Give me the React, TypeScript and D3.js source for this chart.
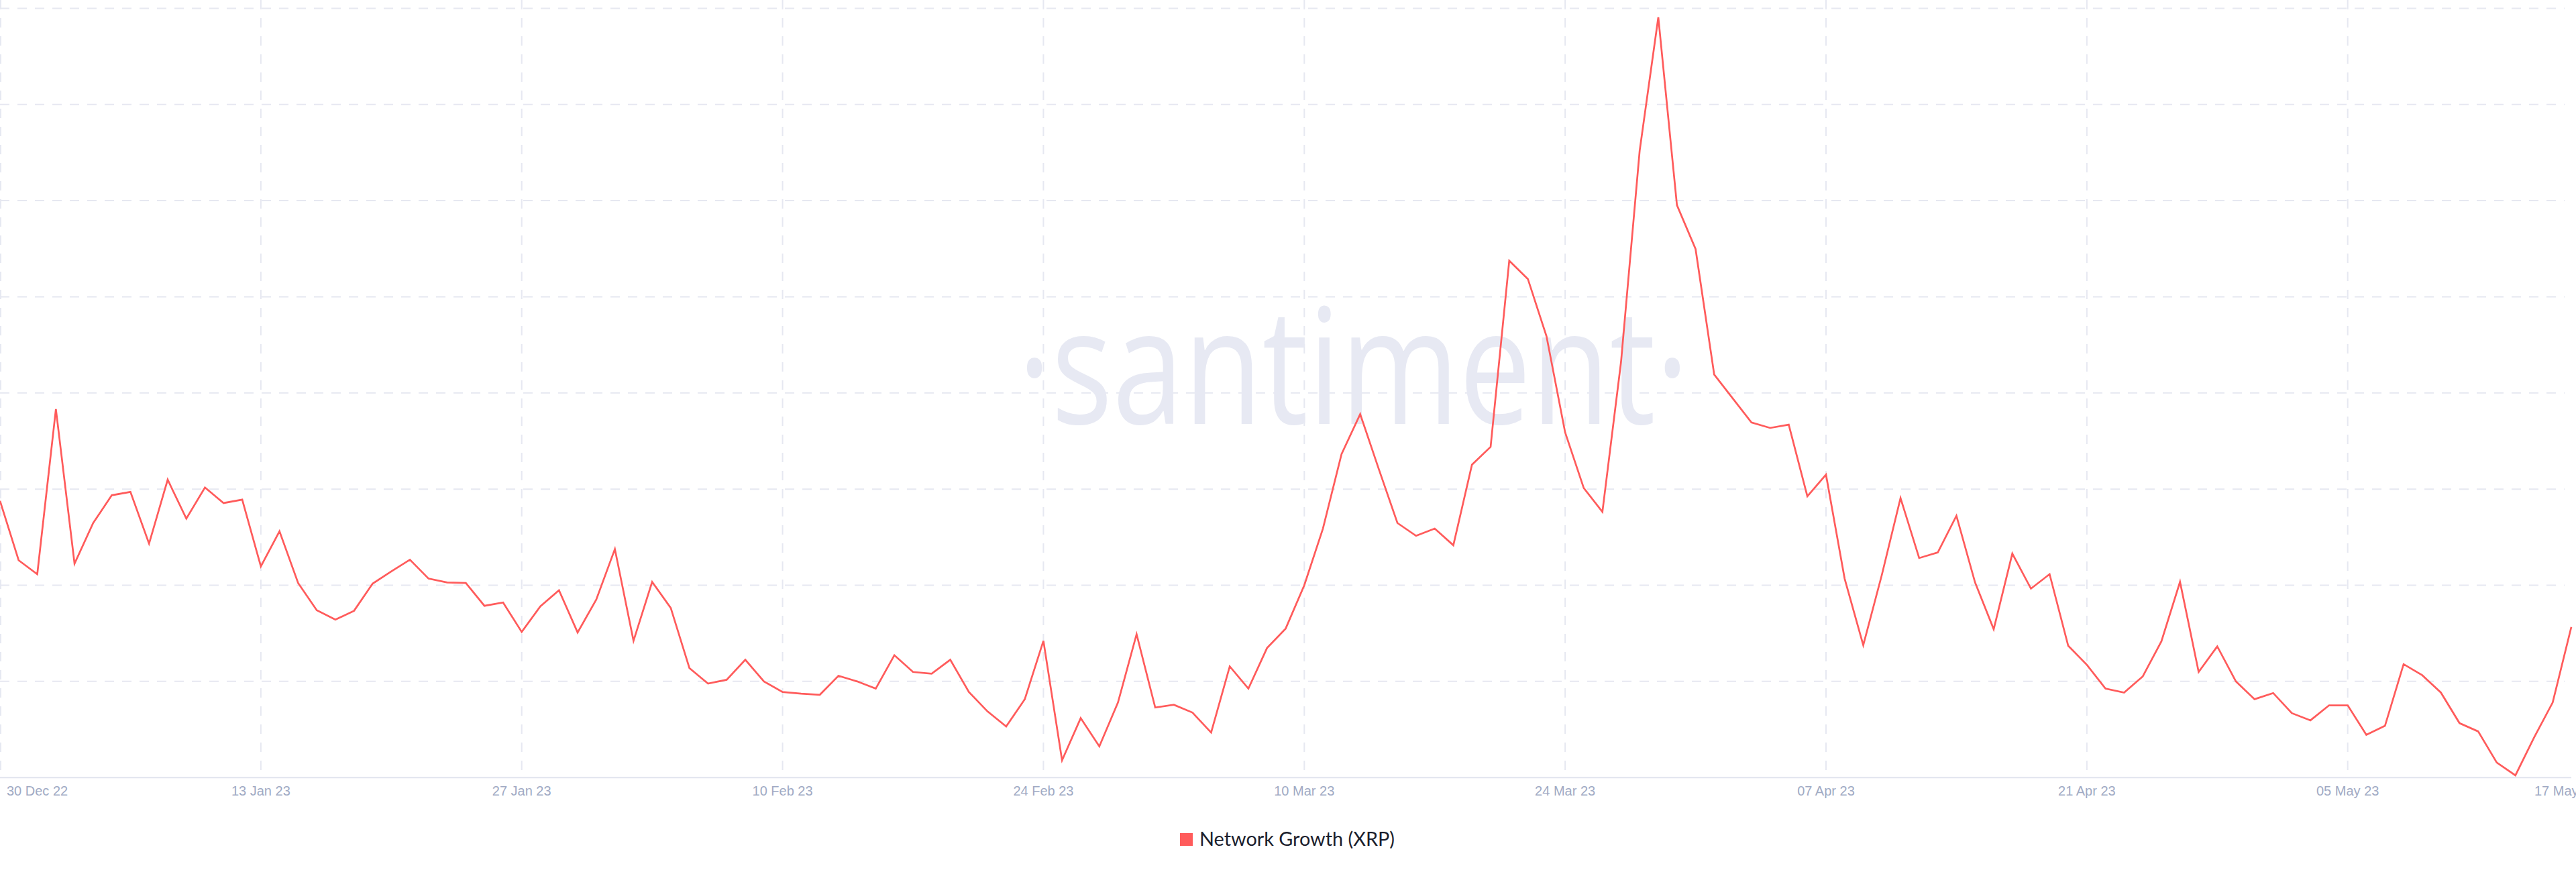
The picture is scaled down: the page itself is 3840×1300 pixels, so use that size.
import React from "react";
import * as d3 from "d3";

const startDate = new Date(Date.UTC(2022, 11, 30));
const endDate = new Date(Date.UTC(2023, 4, 17));

const networkGrowth: number[] = [
  4878, 4260, 4115, 5832, 4225, 4647, 4936, 4971, 4433, 5098,
  4693, 5017, 4855, 4890, 4196, 4561, 4023, 3740, 3642, 3734,
  4017, 4144, 4266, 4069, 4029, 4023, 3786, 3821, 3514, 3780,
  3948, 3509, 3850, 4376, 3422, 4035, 3763, 3139, 2977, 3017,
  3225, 3000, 2890, 2873, 2861, 3058, 3000, 2925, 3272, 3098,
  3081, 3225, 2890, 2688, 2532, 2815, 3422, 2179, 2618, 2324,
  2780, 3491, 2728, 2757, 2676, 2468, 3156, 2925, 3347, 3549,
  4000, 4589, 5364, 5780, 5208, 4647, 4514, 4589, 4416, 5254,
  5439, 7375, 7185, 6589, 5589, 5011, 4763, 6323, 8520, 9907,
  7953, 7497, 6191, 5942, 5693, 5636, 5670, 4925, 5150, 4069,
  3376, 4110, 4907, 4283, 4341, 4722, 4029, 3543, 4329, 3965,
  4115, 3370, 3173, 2925, 2884, 3052, 3416, 4035, 3098, 3364,
  3000, 2815, 2879, 2670, 2595, 2751, 2751, 2445, 2538, 3179,
  3064, 2884, 2566, 2480, 2156, 2023, 2416, 2780, 3566,
];

const dates: Date[] = networkGrowth.map((_, i) => d3.utcDay.offset(startDate, i));

const tickDates: Date[] = [
  new Date(Date.UTC(2022, 11, 30)),
  new Date(Date.UTC(2023, 0, 13)),
  new Date(Date.UTC(2023, 0, 27)),
  new Date(Date.UTC(2023, 1, 10)),
  new Date(Date.UTC(2023, 1, 24)),
  new Date(Date.UTC(2023, 2, 10)),
  new Date(Date.UTC(2023, 2, 24)),
  new Date(Date.UTC(2023, 3, 7)),
  new Date(Date.UTC(2023, 3, 21)),
  new Date(Date.UTC(2023, 4, 5)),
];
const endTickDate = endDate;

const yGridValues: number[] = [3000, 4000, 5000, 6000, 7000, 8000, 9000, 10000];
const seriesName = "Network Growth (XRP)";
const watermark = "·santiment·";

const W = 3840;
const H = 1300;
const LINE_COLOR = "#ff5b5b";
const GRID_COLOR = "#e6e8f1";
const TICK_FONT = "'Liberation Sans', Arial, sans-serif";

export default function App() {
  const x = d3.scaleUtc().domain([startDate, endDate]).range([0, 3833]);
  const y = d3.scaleLinear().domain([2000, 10000]).range([1159.2, 12.4]);
  const fmt = d3.utcFormat("%d %b %y");

  const line = d3
    .line<number>()
    .x((_, i) => x(dates[i]))
    .y((d) => y(d));

  const baseY = y(2000);

  return (
    <div style={{ position: "absolute", left: 0, top: 0, width: W, height: H, background: "#fff" }}>
      <svg width={W} height={H} style={{ display: "block", overflow: "hidden" }}>
        <rect x={0} y={0} width={W} height={H} fill="#ffffff" />
        {yGridValues.map((v) => (
          <line
            key={"h" + v}
            x1={0}
            x2={3823}
            y1={y(v)}
            y2={y(v)}
            stroke={GRID_COLOR}
            strokeWidth={2}
            strokeDasharray="14 12"
          />
        ))}
        {tickDates.map((d, i) => (
          <line
            key={"v" + i}
            x1={Math.max(1, x(d))}
            x2={Math.max(1, x(d))}
            y1={0}
            y2={baseY}
            stroke={GRID_COLOR}
            strokeWidth={2}
            strokeDasharray="14 13"
          />
        ))}
        <text
          x={1517}
          y={632}
          fontFamily="'Open Sans', sans-serif"
          fontSize={241}
          textLength={1001}
          lengthAdjust="spacingAndGlyphs"
          fill="#e7e9f3"
        >
          {watermark}
        </text>
        <line x1={0} x2={3833} y1={baseY} y2={baseY} stroke="#e1e4ee" strokeWidth={2} />
        {tickDates.map((d, i) => (
          <text
            key={"t" + i}
            x={i === 0 ? 10 : x(d)}
            y={1186}
            textAnchor={i === 0 ? "start" : "middle"}
            fontFamily={TICK_FONT}
            fontSize={20}
            fill="#a0aac4"
          >
            {fmt(d)}
          </text>
        ))}
        <text
          x={3778}
          y={1186}
          textAnchor="start"
          fontFamily={TICK_FONT}
          fontSize={20}
          fill="#a0aac4"
        >
          {fmt(endTickDate)}
        </text>
        <path
          d={line(networkGrowth) || ""}
          fill="none"
          stroke={LINE_COLOR}
          strokeWidth={2.7}
          strokeLinejoin="miter"
        />
        <rect x={1759} y={1242} width={19} height={19} fill={LINE_COLOR} />
        <text
          x={1788}
          y={1261}
          fontFamily="Lato, 'Open Sans', sans-serif"
          fontSize={29}
          fill="#1b1e2d"
          textLength={291}
          lengthAdjust="spacingAndGlyphs"
        >
          {seriesName}
        </text>
      </svg>
    </div>
  );
}
